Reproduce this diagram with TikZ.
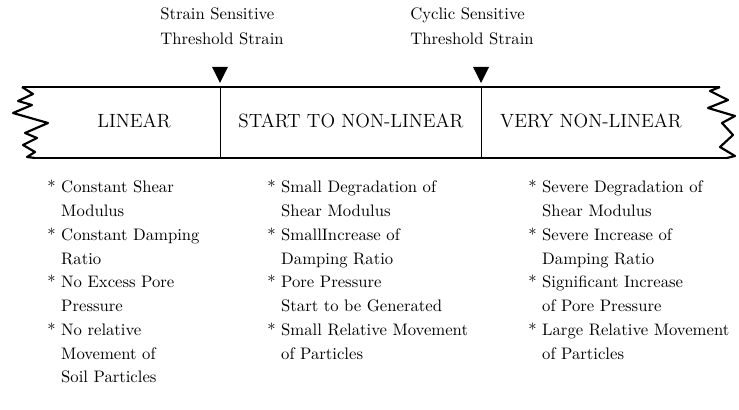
\documentclass[tikz,border=0pt]{standalone}
\usepackage{tikz}

\newcommand{\cont}{\hphantom{* }}

\begin{document}
\begin{tikzpicture}[
  x=0.6pt,
  y=-0.6pt, % <-- pixel grid, y runs downwards
  every node/.style={inner sep=0pt},
  thresh/.style={align=left, anchor=north west, font=\fontsize{10}{15}\selectfont},
  zone/.style={anchor=base, font=\fontsize{11.5}{13}\selectfont},
  effect/.style={align=left, anchor=north west, font=\fontsize{10}{14.25}\selectfont},
  marker/.style={fill=black},
  brk/.style={line width=1.3pt, line join=round}
]
\useasboundingbox (0,0) rectangle (739,410);

% Threshold labels
\node[thresh] (sst) at (160,7) {Strain Sensitive\\Threshold Strain};
\node[thresh] (cst) at (410,7) {Cyclic Sensitive\\Threshold Strain};

% Threshold markers
\fill[marker] (212,67) -- (228,67) -- (220,83) -- cycle;
\fill[marker] (473,67) -- (489,67) -- (481,83) -- cycle;

% Strain band
\draw[line width=0.9pt] (22,87) -- (720,87);
\draw[line width=0.9pt] (35,158) -- (727,158);

% Broken ends
\draw[brk] (22,87) -- (33,94) -- (18,101) -- (32,105) -- (13,113) -- (48,123)
  -- (25,133) -- (37,138) -- (23,145) -- (35,152) -- (27,157) -- (35,158);
\draw[brk] (720,87) -- (710,91) -- (728,100) -- (708,108) -- (735,116) -- (722,123)
  -- (733,135) -- (720,147) -- (735,156) -- (727,158);

% Zone boundaries
\coordinate (b1t) at (220,87);
\coordinate (b1b) at (220,158);
\coordinate (b2t) at (481,87);
\coordinate (b2b) at (481,158);
\draw (b1t) -- (b1b);
\draw (b2t) -- (b2b);

% Zone names
\node[zone] (lin)  at (134,128) {LINEAR};
\node[zone] (snl)  at (351,128) {START TO NON-LINEAR};
\node[zone] (vnl)  at (591,128) {VERY NON-LINEAR};

% --- Effects in each zone ---
\node[effect] (elin) at (47,180) {* Constant Shear\\\cont Modulus\\* Constant Damping\\\cont Ratio\\* No Excess Pore\\\cont Pressure\\* No relative\\\cont Movement of\\\cont Soil Particles};
\node[effect] (esnl) at (267,180) {* Small Degradation of\\\cont Shear Modulus\\* SmallIncrease of\\\cont Damping Ratio\\* Pore Pressure\\\cont Start to be Generated\\* Small Relative Movement\\\cont of Particles};
\node[effect] (evnl) at (528,180) {* Severe Degradation of\\\cont Shear Modulus\\* Severe Increase of\\\cont Damping Ratio\\* Significant Increase\\\cont of Pore Pressure\\* Large Relative Movement\\\cont of Particles};

\end{tikzpicture}
\end{document}
